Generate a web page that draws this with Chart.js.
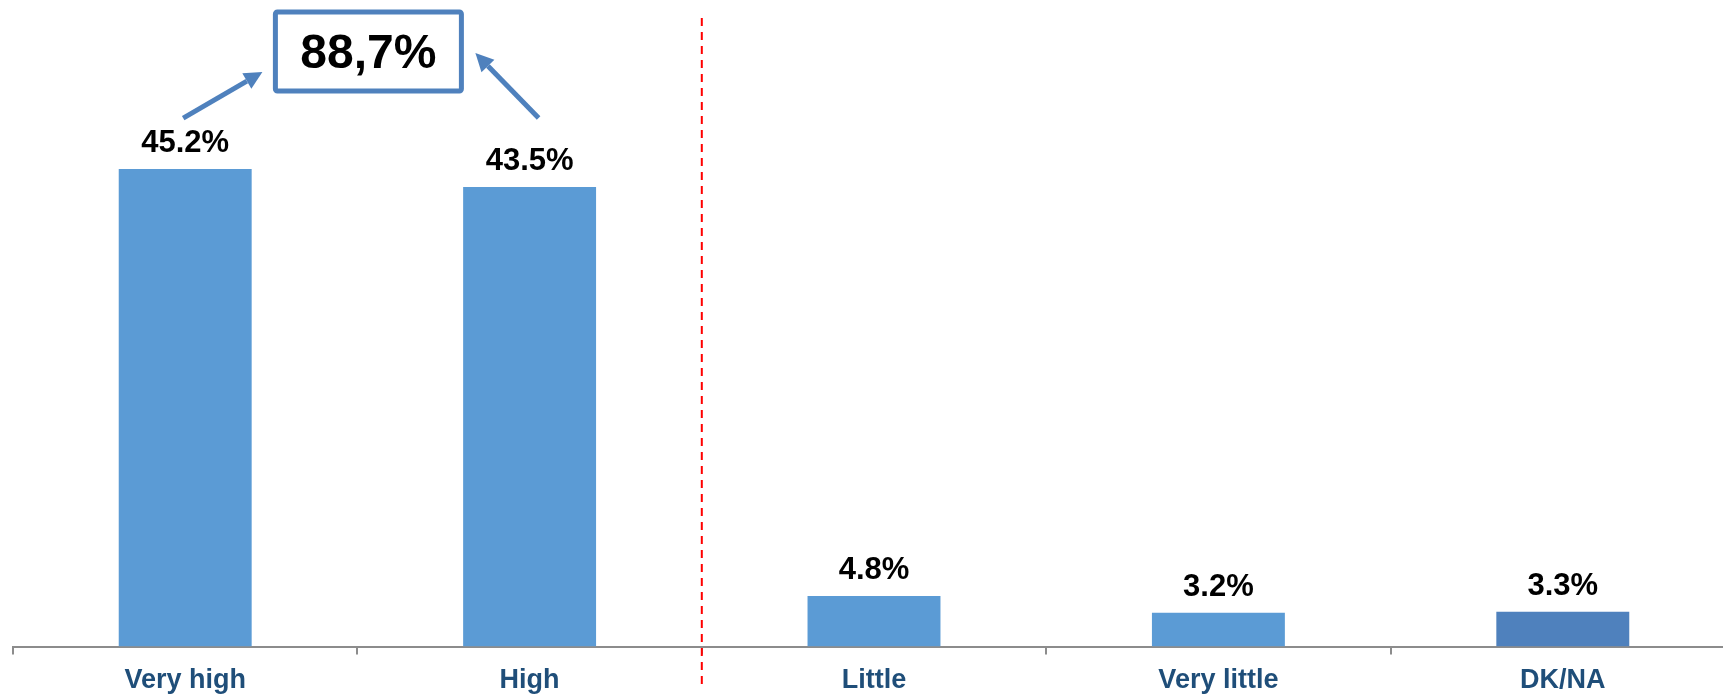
<!DOCTYPE html>
<html>
<head>
<meta charset="utf-8">
<script src="https://cdn.jsdelivr.net/npm/chart.js@4/dist/chart.umd.min.js"></script>
<style>
  body { margin: 0; overflow: hidden; background: #fff; }
  #wrap { position: relative; width: 1736px; height: 707px; }
</style>
</head>
<body>
<div id="wrap"><canvas id="grafica"></canvas></div>
<script>
const categorias = ["Very high", "High", "Little", "Very little", "DK/NA"];
const valores = [45.2, 43.5, 4.8, 3.2, 3.3];
const colores = ["#5B9BD5", "#5B9BD5", "#5B9BD5", "#5B9BD5", "#4F81BD"];
const totalTexto = "88,7%";

const fuente = "'Liberation Sans', Arial, sans-serif";

// flecha con punta triangular
function flecha(ctx, x1, y1, x2, y2) {
    const ang = Math.atan2(y2 - y1, x2 - x1);
    const largo = 18, ancho = 9;
    const bx = x2 - largo * Math.cos(ang), by = y2 - largo * Math.sin(ang);
    ctx.beginPath();
    ctx.moveTo(x1, y1);
    ctx.lineTo(bx, by);
    ctx.stroke();
    ctx.beginPath();
    ctx.moveTo(x2, y2);
    ctx.lineTo(bx + ancho * Math.sin(ang), by - ancho * Math.cos(ang));
    ctx.lineTo(bx - ancho * Math.sin(ang), by + ancho * Math.cos(ang));
    ctx.closePath();
    ctx.fill();
}

const extras = {
    id: 'extras',
    afterDatasetsDraw(chart) {
        const ctx = chart.ctx;
        const meta = chart.getDatasetMeta(0);
        const x = chart.scales.x;

        // etiquetas de valor
        ctx.save();
        ctx.fillStyle = '#000';
        ctx.font = 'bold 31px ' + fuente;
        ctx.textAlign = 'center';
        ctx.textBaseline = 'alphabetic';
        meta.data.forEach((bar, i) => {
            ctx.fillText(valores[i].toFixed(1) + '%', bar.x, bar.y - 17);
        });

        // linea roja discontinua
        const sep = (x.getPixelForValue(1) + x.getPixelForValue(2)) / 2;
        ctx.strokeStyle = '#FF0000';
        ctx.lineWidth = 2;
        ctx.setLineDash([8, 6]);
        ctx.beginPath();
        ctx.moveTo(sep, 18);
        ctx.lineTo(sep, 688);
        ctx.stroke();
        ctx.setLineDash([]);

        // recuadro del total
        const x0 = meta.data[0].x, x1 = meta.data[1].x;
        const mid = (x0 + x1) / 2;
        const bx = mid - 82, by = 12, bw = 186, bh = 79;
        ctx.strokeStyle = '#4F81BD';
        ctx.lineWidth = 5;
        ctx.beginPath();
        ctx.roundRect(bx, by, bw, bh, 2);
        ctx.stroke();
        ctx.fillStyle = '#000';
        ctx.font = 'bold 48px ' + fuente;
        ctx.fillText(totalTexto, bx + bw / 2, by + 56);

        // flechas
        ctx.strokeStyle = '#4F81BD';
        ctx.fillStyle = '#4F81BD';
        ctx.lineWidth = 5;
        const y0 = meta.data[0].y;
        flecha(ctx, x0 - 2, y0 - 51, bx - 13, 72);
        flecha(ctx, x1 + 9, y0 - 51, bx + bw + 14, 53);
        ctx.restore();
    }
};

const data = {
    labels: categorias,
    datasets: [{
        data: valores,
        backgroundColor: colores,
        borderWidth: 0,
        categoryPercentage: 1,
        barPercentage: 0.386
    }]
};

const config = {
    type: 'bar',
    data: data,
    options: {
        responsive: true,
        maintainAspectRatio: false,
        animation: false,
        layout: { padding: { left: 13, right: 1, top: 0, bottom: 0 } },
        plugins: { legend: { display: false }, tooltip: { enabled: false } },
        scales: {
            y: { display: false, min: 0, max: 61.2 },
            x: {
                grid: { display: true, drawOnChartArea: false, drawTicks: true, tickLength: 8, offset: true, color: '#8C8C8C', lineWidth: 2 },
                border: { display: true, color: '#8C8C8C', width: 2 },
                ticks: { color: '#1F4E79', padding: 10, font: { family: fuente, size: 27, weight: 'bold' } }
            }
        }
    },
    plugins: [extras]
};

const ctx = document.getElementById('grafica').getContext('2d');
const graficaConfianza = new Chart(ctx, config);
</script>
</body>
</html>
